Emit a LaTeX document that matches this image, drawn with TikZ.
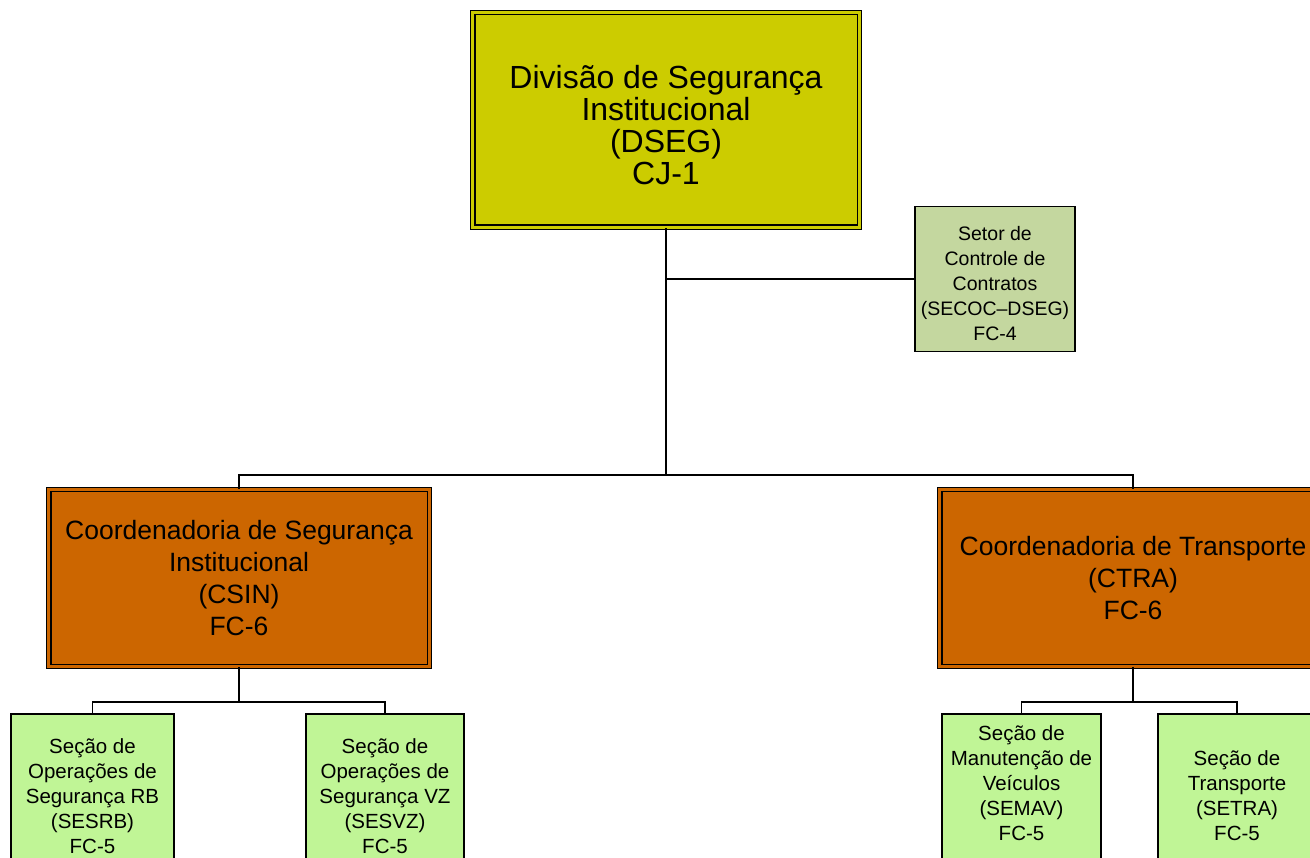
\documentclass[tikz,border=0pt]{standalone}
\usepackage{fontspec}
\setmainfont{Liberation Sans}
\definecolor{dsegyellow}{RGB}{204,204,0}
\definecolor{coordorange}{RGB}{204,102,0}
\definecolor{secocgreen}{RGB}{196,215,159}
\definecolor{secgreen}{RGB}{192,245,150}
\begin{document}
\begin{tikzpicture}[x=1pt,y=-1pt,
  dblbox/.style={draw=black, line width=1.3pt, double distance=3pt, inner sep=0pt, align=center, text=black},
  bigbox/.style={dblbox, double=dsegyellow, fill=dsegyellow, minimum width=386.6pt, minimum height=214.6pt},
  bigtext/.style={align=center, inner sep=0pt, text=black, font=\fontsize{32}{32}\selectfont},
  midbox/.style={dblbox, double=coordorange, fill=coordorange, minimum width=380.6pt, minimum height=176.6pt, font=\fontsize{26.5}{32}\selectfont},
  smallbox/.style={draw=black, line width=1.2pt, inner sep=0pt, minimum width=158pt, minimum height=162pt},
  smalltext/.style={align=center, inner sep=0pt, text=black, font=\fontsize{20.5}{25}\selectfont},
  link/.style={draw=black, line width=1.3pt}]
\useasboundingbox (0,0) rectangle (1310,858);
\clip (0,0) rectangle (1310,858);
% top
\node[bigbox] (dseg) at (666,120) {};
\node[bigtext] (dsegt) at (666,125) {Divisão de Segurança\\Institucional\\(DSEG)\\CJ-1};
\node[smallbox, fill=secocgreen, minimum width=160pt, minimum height=145pt] (secoc) at (995,279) {};
\node[smalltext, font=\fontsize{19.5}{25}\selectfont] (secoct) at (995,284) {Setor de\\Controle de\\Contratos\\(SECOC--DSEG)\\FC-4};
% coordinators
\node[midbox] (csin) at (239,578) {Coordenadoria de Segurança\\Institucional\\(CSIN)\\FC-6};
\node[midbox, minimum width=386.6pt] (ctra) at (1133,578) {Coordenadoria de Transporte\\(CTRA)\\FC-6};
% sections
\node[smallbox, fill=secgreen, minimum width=163pt] (sesrb) at (92.5,795) {};
\node[smallbox, fill=secgreen] (sesvz) at (385,795) {};
\node[smallbox, fill=secgreen, minimum width=159pt] (semav) at (1021.5,795) {};
\node[smallbox, fill=secgreen] (setra) at (1237,795) {};
\node[smalltext] (sesrbt) at (92.5,796) {Seção de\\Operações de\\Segurança RB\\(SESRB)\\FC-5};
\node[smalltext] (sesvzt) at (385,796) {Seção de\\Operações de\\Segurança VZ\\(SESVZ)\\FC-5};
\node[smalltext] (semavt) at (1021.5,783) {Seção de\\Manutenção de\\Veículos\\(SEMAV)\\FC-5};
\node[smalltext] (setrat) at (1237,796) {Seção de\\Transporte\\(SETRA)\\FC-5};
% junctions
\coordinate (j1) at (666,475);
\coordinate (j2) at (239,702);
\coordinate (j3) at (1133,702);
% connectors
\draw[link] (dseg.south) -- (j1);
\draw[link] (secoc.west) -- (secoc.west -| dseg.south);
\draw[link] (j1) -| (csin.north);
\draw[link] (j1) -| (ctra.north);
\draw[link] (csin.south) -- (j2);
\draw[link] (j2) -| (sesrb.north);
\draw[link] (j2) -| (sesvz.north);
\draw[link] (ctra.south) -- (j3);
\draw[link] (j3) -| (semav.north);
\draw[link] (j3) -| (setra.north);
\end{tikzpicture}
\end{document}
